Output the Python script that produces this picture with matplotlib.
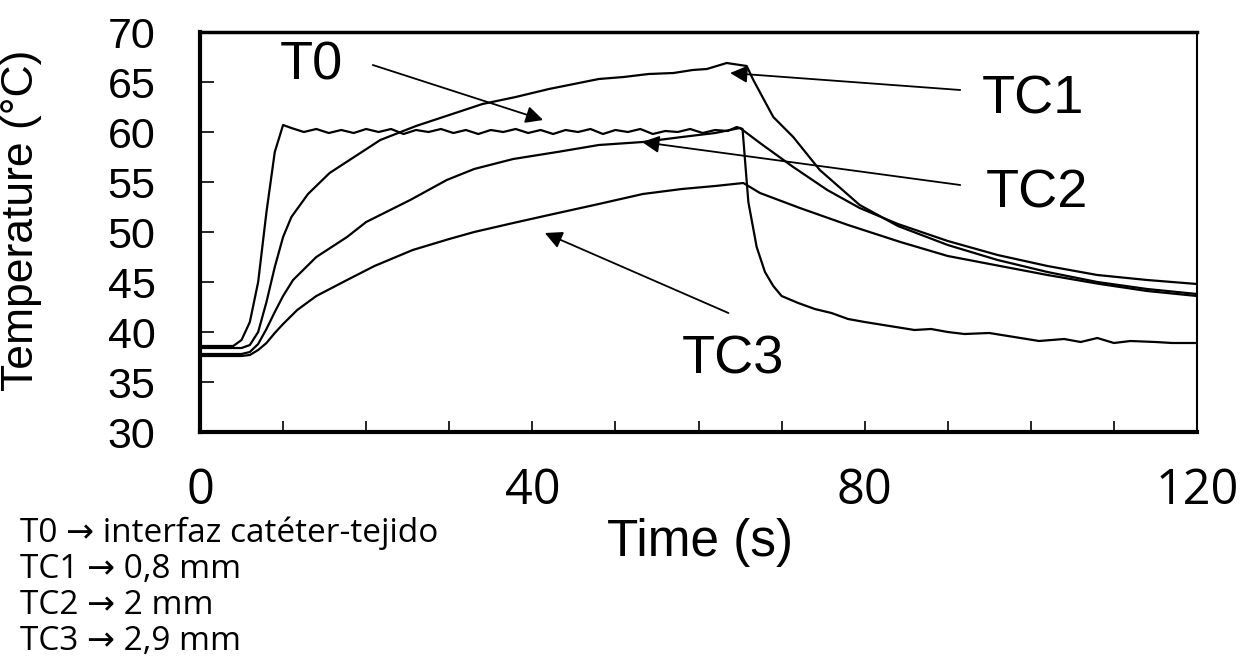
import matplotlib
matplotlib.use('Agg')
from matplotlib import pyplot as plt
import numpy as np

# T0: catheter-tissue interface
t0_time = [0, 4, 5, 6, 7, 8, 9, 10, 11, 12.5, 14, 15.5, 17, 18.5, 20, 21.5, 23, 24.5, 26, 27.5,
           29, 30.5, 32, 33.5, 35, 36.5, 38, 39.5, 41, 42.5, 44, 45.5, 47, 48.5, 50, 51.5,
           53, 54.5, 56, 57.5, 59, 60.5, 62, 63.5, 64.6, 65.3, 66, 67, 68, 69, 70, 72,
           74, 76, 78, 80, 83, 86, 88, 90, 92, 95, 98, 101, 104, 106, 108, 110, 112, 115, 117, 120]
t0_temp = [38.6, 38.6, 39.2, 41.0, 45.0, 52.0, 58.0, 60.7, 60.4, 60.0, 60.3, 59.9, 60.2, 59.9,
           60.3, 60.0, 60.3, 59.8, 60.2, 60.0, 60.3, 59.9, 60.2, 59.8, 60.2, 60.0, 60.3, 59.9,
           60.2, 59.8, 60.2, 60.0, 60.3, 59.8, 60.2, 60.0, 60.3, 59.8, 60.1, 60.0, 60.3, 59.9,
           60.2, 60.1, 60.5, 60.3, 53.0, 48.5, 46.0, 44.6, 43.6, 42.9, 42.3, 41.9, 41.3, 41.0,
           40.6, 40.2, 40.3, 40.0, 39.8, 39.9, 39.5, 39.1, 39.3, 39.0, 39.4, 38.9, 39.1, 39.0, 38.9, 38.9]

# TC1: 0.8 mm
tc1_time = [0, 5, 6, 7, 8, 9, 10, 11, 13, 15.6, 18, 21.7, 26, 30, 34, 38, 42, 45, 48, 51, 54,
            57, 59.3, 61, 63.4, 65.8, 66.6, 69, 71.4, 74.6, 79.4, 84, 90, 96, 102, 108, 114, 120]
tc1_temp = [38.4, 38.4, 38.7, 40.0, 43.0, 46.5, 49.5, 51.5, 53.8, 55.9, 57.2, 59.2, 60.6, 61.7,
            62.8, 63.5, 64.3, 64.8, 65.3, 65.5, 65.8, 65.9, 66.2, 66.3, 66.9, 66.6, 65.2, 61.5,
            59.5, 56.2, 52.7, 50.6, 48.7, 47.2, 46.0, 45.0, 44.3, 43.8]

# TC2: 2 mm
tc2_time = [0, 5, 6, 7, 8, 9, 10, 11.2, 14, 17.7, 20, 25.3, 29.7, 33, 37.7, 43, 48, 53.3,
            58, 62, 65, 67.4, 71.4, 75.5, 79.4, 84, 90, 96, 102, 108, 114, 120]
tc2_temp = [37.8, 37.8, 38.0, 38.8, 40.3, 42.0, 43.6, 45.2, 47.5, 49.5, 51.0, 53.2, 55.2, 56.3,
            57.3, 58.0, 58.7, 59.0, 59.5, 59.9, 60.4, 58.9, 56.5, 54.2, 52.4, 50.8, 49.1, 47.7,
            46.6, 45.7, 45.2, 44.8]

# TC3: 2.9 mm
tc3_time = [0, 5, 6, 7, 8, 9, 10, 11.7, 14, 17.7, 21, 25.6, 30, 33, 37.7, 42, 48, 53.3, 58,
            62, 65.4, 67.4, 72.2, 78, 84.3, 90, 96.3, 102, 108.3, 114, 120]
tc3_temp = [37.6, 37.6, 37.7, 38.2, 38.9, 39.9, 40.8, 42.2, 43.6, 45.2, 46.6, 48.2, 49.3, 50.0,
            50.9, 51.7, 52.8, 53.8, 54.3, 54.6, 54.9, 53.9, 52.4, 50.7, 49.0, 47.6, 46.6, 45.7,
            44.8, 44.1, 43.6]

# annotation labels: (text, text pos, arrow tail, arrow tip)
labels = ['T0', 'TC1', 'TC2', 'TC3']
label_xy = [(13.4, 66.6), (100.3, 63.2), (100.7, 53.9), (64.2, 37.2)]
tail_xy = [(20.8, 66.7), (91.5, 64.2), (91.5, 54.7), (63.6, 41.9)]
tip_xy = [(41.3, 61.2), (63.8, 65.9), (53.2, 59.0), (41.5, 49.9)]

notes = ['T0 \u2192 interfaz cat\u00e9ter-tejido', 'TC1 \u2192 0,8 mm',
         'TC2 \u2192 2 mm', 'TC3 \u2192 2,9 mm']

xticks = [0, 40, 80, 120]
yticks = np.arange(30, 71, 5)

arial = 'Liberation Sans'
calibri = ['Open Sans', 'DejaVu Sans']


def make_plot(outfile='out.png'):
    fig = plt.figure(figsize=(12.44, 6.57), dpi=100)
    ax = fig.add_axes([200/1244, 1-432/657, 997/1244, 400/657])

    for tt, temp in [(t0_time, t0_temp), (tc1_time, tc1_temp),
                     (tc2_time, tc2_temp), (tc3_time, tc3_temp)]:
        ax.plot(tt, temp, 'k-', lw=1.6)

    ax.set_xlim(0, 120)
    ax.set_ylim(30, 70)

    for i in range(len(labels)):
        ax.annotate('', xy=tip_xy[i], xytext=tail_xy[i],
                    arrowprops=dict(arrowstyle='-|>', color='k', lw=1.3,
                                    mutation_scale=26, shrinkA=0, shrinkB=0))
        ax.text(label_xy[i][0], label_xy[i][1], labels[i], fontsize=39,
                family=arial, ha='center', va='center')

    ax.set_xticks(xticks)
    ax.set_xticks(np.arange(10, 120, 10), minor=True)
    ax.set_xticklabels([str(v) for v in xticks], family=calibri, fontsize=35)
    ax.set_yticks(yticks)
    ax.set_yticklabels([str(v) for v in yticks], family=arial, fontsize=31)
    ax.tick_params(axis='x', which='both', direction='in', length=8, width=1.2, pad=25)
    ax.tick_params(axis='y', direction='in', length=10, width=1.2, pad=32)
    ax.tick_params(axis='y', which='minor', left=False)

    ax.spines['left'].set_linewidth(3)
    ax.spines['bottom'].set_linewidth(3)
    ax.spines['top'].set_linewidth(2.5)
    ax.spines['right'].set_linewidth(1.5)

    ax.set_ylabel('Temperature (\u00b0C)', family=arial, fontsize=32)
    ax.yaxis.set_label_coords(-0.158, 0.53)
    ax.set_xlabel('Time (s)', family=arial, fontsize=37, va='top')
    ax.xaxis.set_label_coords(0.5015, -0.215)

    ys = [533, 570, 606, 642]
    for k in range(len(notes)):
        fig.text(20/1244, 1-ys[k]/657, notes[k], family=calibri, fontsize=24,
                 ha='left', va='center')

    fig.savefig(outfile, dpi=100)
    plt.close('all')


if __name__ == '__main__':
    make_plot()
